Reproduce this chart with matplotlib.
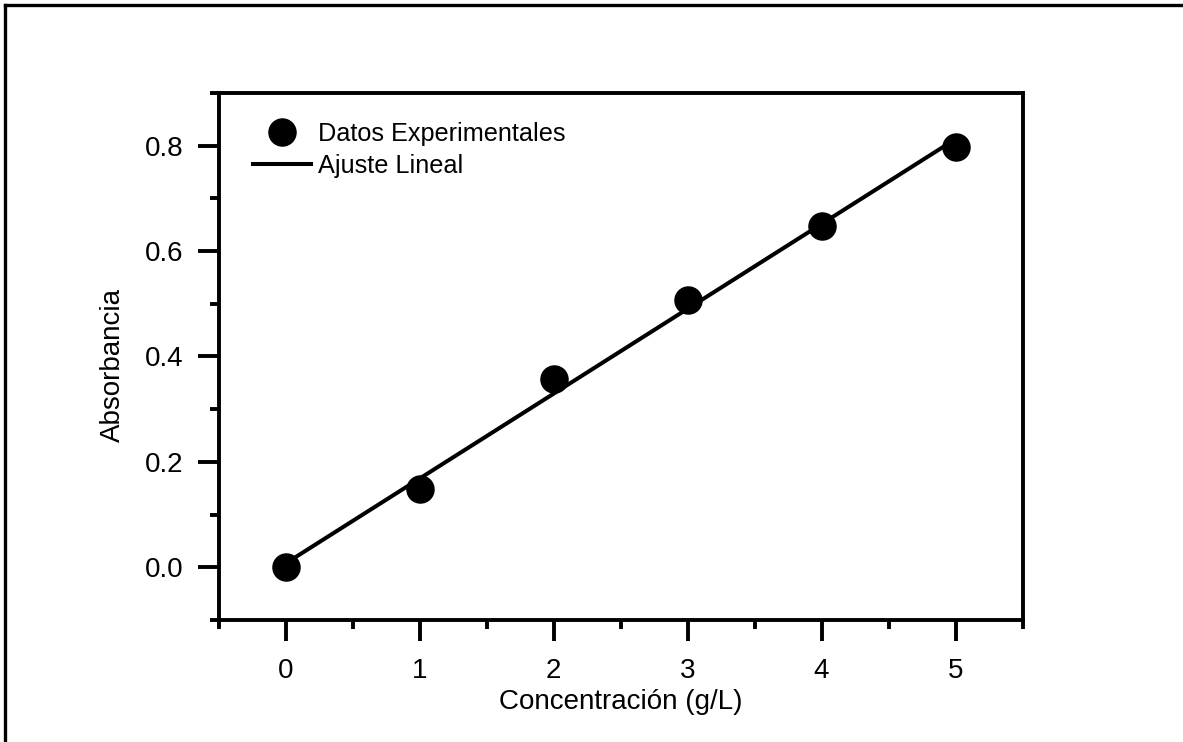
import numpy as np
import matplotlib
matplotlib.use("Agg")
import matplotlib.pyplot as plt
from matplotlib.lines import Line2D
from matplotlib.ticker import MultipleLocator

# Values
concentracion = [0, 1, 2, 3, 4, 5]
absorbancia = [0.0, 0.148, 0.358, 0.508, 0.647, 0.798]

x_label = "Concentración (g/L)"
y_label = "Absorbancia"
label_datos = "Datos Experimentales"
label_ajuste = "Ajuste Lineal"

plt.rcParams["font.family"] = ["Liberation Sans", "DejaVu Sans"]
plt.rcParams["font.size"] = 20

W, H = 1183, 742
fig = plt.figure(figsize=(W / 100, H / 100), dpi=100)

# Page frame: only the left and top edges fall inside the image
fig.add_artist(Line2D([5 / W, 5 / W], [0, 1 - 4.5 / H], transform=fig.transFigure,
                      color="black", linewidth=2.4))
fig.add_artist(Line2D([5 / W, 1], [1 - 4.5 / H, 1 - 4.5 / H], transform=fig.transFigure,
                      color="black", linewidth=2.4))

ax = fig.add_axes([218.5 / W, 122 / H, 804 / W, 527 / H])

# Linear fit
slope, intercept = np.polyfit(concentracion, absorbancia, 1)
xfit = np.array([concentracion[0], concentracion[-1]])
ax.plot(xfit, slope * xfit + intercept, color="black", linewidth=2.9,
        label=label_ajuste, zorder=2)
ax.plot(concentracion, absorbancia, linestyle="none", marker="o", markersize=19.5,
        color="black", label=label_datos, zorder=3)

ax.set_xlim(-0.5, 5.5)
ax.set_ylim(-0.1, 0.9)
ax.xaxis.set_major_locator(MultipleLocator(1))
ax.xaxis.set_minor_locator(MultipleLocator(0.5))
ax.yaxis.set_major_locator(MultipleLocator(0.2))
ax.yaxis.set_minor_locator(MultipleLocator(0.1))
ax.yaxis.set_major_formatter(plt.FuncFormatter(lambda v, p: f"{v:.1f}"))

for s in ax.spines.values():
    s.set_linewidth(2.8)
ax.tick_params(which="both", direction="out", width=2.8, top=False, right=False)
ax.tick_params(which="major", length=15)
ax.tick_params(which="minor", length=6.5)
ax.tick_params(axis="y", which="major", pad=10.5)
ax.tick_params(axis="x", which="major", pad=12)

ax.set_xlabel(x_label)
ax.set_ylabel(y_label)
ax.xaxis.set_label_coords(0.5, -0.130)
ax.yaxis.set_label_coords(-0.1155, 0.483)

handles, labels = ax.get_legend_handles_labels()
ax.legend(handles[::-1], labels[::-1], loc="upper left",
          bbox_to_anchor=(0.043, 0.945), frameon=False, borderpad=0,
          borderaxespad=0, handlelength=2.3, handletextpad=0.28,
          labelspacing=0.33, fontsize=18.2)

fig.savefig("out.png", dpi=100)
